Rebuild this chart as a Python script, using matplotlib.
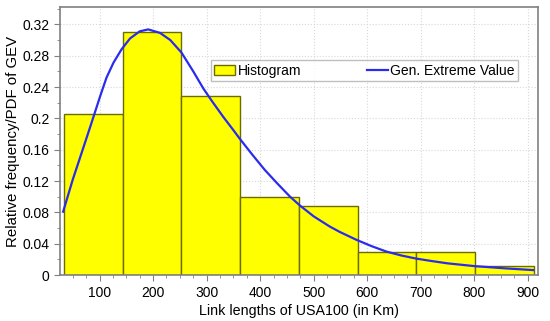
import numpy as np
import matplotlib
matplotlib.use("Agg")
import matplotlib.pyplot as plt
import matplotlib.ticker as tck

plt.rcParams['font.family'] = ['Liberation Sans', 'DejaVu Sans']

# histogram bins (Km) and relative frequencies
bin_edges = [33, 143, 253, 362, 472, 582, 692, 801, 911]
rel_freq = [0.205, 0.310, 0.229, 0.100, 0.088, 0.030, 0.030, 0.012]

# GEV pdf, points
gev_x = [32, 50, 67, 82, 101, 113, 126, 141, 157, 175, 191, 213, 232, 253,
         275, 294, 310, 331, 350, 362, 385, 409, 432, 456, 474, 500, 530,
         549, 580, 608, 636, 664, 692, 720, 750, 800, 860, 910]
gev_y = [0.081, 0.122, 0.157, 0.188, 0.228, 0.252, 0.271, 0.288, 0.302,
         0.311, 0.3135, 0.309, 0.300, 0.284, 0.260, 0.238, 0.222, 0.202,
         0.185, 0.174, 0.154, 0.134, 0.117, 0.100, 0.089, 0.075, 0.062,
         0.055, 0.045, 0.037, 0.030, 0.025, 0.021, 0.018, 0.015, 0.0115,
         0.0085, 0.0064]

fig = plt.figure(figsize=(5.5, 3.21), dpi=100)
ax1 = fig.add_axes([0.109, 0.143, 0.869, 0.835])

widths = np.diff(bin_edges)
bars = ax1.bar(bin_edges[:-1], rel_freq, width=widths, align='edge',
               color='#ffff00', edgecolor='#6b6b00', linewidth=1.0,
               label='Histogram', zorder=2)
line, = ax1.plot(gev_x, gev_y, color='#2b2bf0', linewidth=1.6,
                 label='Gen. Extreme Value', zorder=3)

ax1.set_xlim(26, 919)
ax1.set_ylim(0, 0.342)
ax1.xaxis.set_major_locator(tck.MultipleLocator(100))
ax1.xaxis.set_minor_locator(tck.MultipleLocator(25))
ax1.yaxis.set_major_locator(tck.MultipleLocator(0.04))
ax1.yaxis.set_minor_locator(tck.MultipleLocator(0.02))
ax1.yaxis.set_major_formatter(tck.FuncFormatter(lambda v, p: ('%.2f' % v).rstrip('0').rstrip('.') if v else '0'))
ax1.xaxis.set_major_formatter(tck.FuncFormatter(lambda v, p: '%d' % v if v >= 100 else ''))

ax1.grid(True, which='major', color='#d8d8d8', linestyle=':', linewidth=0.8, zorder=0)
for s in ax1.spines.values():
    s.set_color('#808080')
    s.set_linewidth(1.2)
ax1.tick_params(which='both', direction='out', color='#808080', labelsize=10)
ax1.tick_params(which='major', length=4)
ax1.tick_params(which='minor', length=2.5)

ax1.set_xlabel("Link lengths of USA100 (in Km)", fontsize=10.3, labelpad=3)
ax1.set_ylabel("Relative frequency/PDF of GEV", fontsize=10.8, labelpad=2)

leg = ax1.legend([bars, line], ['Histogram', 'Gen. Extreme Value'],
                 loc='upper left', bbox_to_anchor=(0.316, 0.802), ncol=2,
                 fontsize=10, frameon=True, fancybox=False, borderpad=0.25,
                 columnspacing=4.7, handlelength=1.5, handletextpad=0.2,
                 borderaxespad=0)
leg.get_frame().set_edgecolor('#b0b0b0')
leg.get_frame().set_linewidth(1.0)

plt.savefig("out.png", dpi=100)
